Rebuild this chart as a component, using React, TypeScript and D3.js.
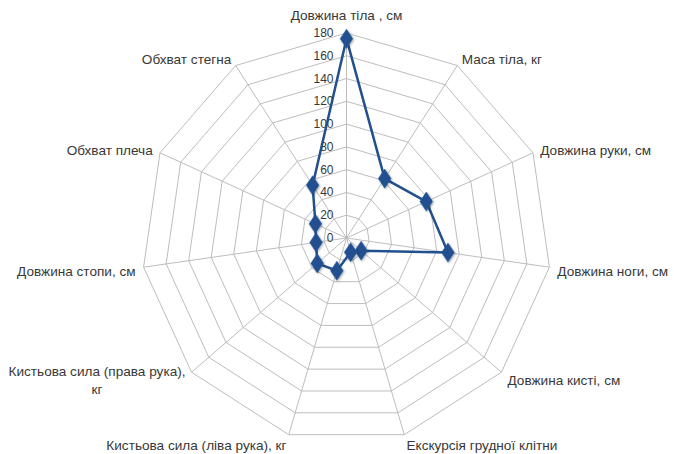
import React, { useEffect, useRef } from "react";
import * as d3 from "d3";

const categories: string[] = [
  "Довжина тіла , см",
  "Маса тіла, кг",
  "Довжина руки, см",
  "Довжина ноги, см",
  "Довжина кисті, см",
  "Екскурсія грудної клітни",
  "Кистьова сила (ліва рука), кг",
  "Кистьова сила (права рука),\nкг",
  "Довжина стопи, см",
  "Обхват плеча",
  "Обхват стегна",
];

const values: number[] = [175, 62, 77, 90, 17, 13, 30, 34, 27, 30, 55];

const tickValues: number[] = [0, 20, 40, 60, 80, 100, 120, 140, 160, 180];

const W = 674;
const H = 454;
const CX = 346.5;
const CY = 238;
const R = 205;
const LINE_COLOR = "#21508f";
const GRID_COLOR = "#bdbdbd";
const TEXT_COLOR = "#383838";
const FONT = "'Liberation Sans', Arial, sans-serif";

export default function App() {
  const ref = useRef<SVGSVGElement | null>(null);

  useEffect(() => {
    const svg = d3.select(ref.current);
    svg.selectAll("*").remove();
    const n = categories.length;
    const r = d3.scaleLinear().domain([0, 180]).range([0, R]);
    const angle = (i: number) => (i * 2 * Math.PI) / n;
    const pt = (i: number, v: number): [number, number] => [
      CX + r(v) * Math.sin(angle(i)),
      CY - r(v) * Math.cos(angle(i)),
    ];

    const defs = svg.append("defs");
    const f = defs
      .append("filter")
      .attr("id", "sh")
      .attr("x", "-50%")
      .attr("y", "-50%")
      .attr("width", "200%")
      .attr("height", "200%");
    f.append("feDropShadow")
      .attr("dx", 0.8)
      .attr("dy", 1)
      .attr("stdDeviation", 1)
      .attr("flood-color", "#000")
      .attr("flood-opacity", 0.35);

    const g = svg.append("g");

    // rings
    const ringVals = tickValues.filter((t) => t > 0);
    g.selectAll("polygon.ring")
      .data(ringVals)
      .enter()
      .append("polygon")
      .attr("class", "ring")
      .attr("points", (t) =>
        d3.range(n).map((i) => pt(i, t).join(",")).join(" ")
      )
      .attr("fill", "none")
      .attr("stroke", GRID_COLOR)
      .attr("stroke-width", 1);

    // spokes
    g.selectAll("line.spoke")
      .data(d3.range(n))
      .enter()
      .append("line")
      .attr("x1", CX)
      .attr("y1", CY)
      .attr("x2", (i) => pt(i, 180)[0])
      .attr("y2", (i) => pt(i, 180)[1])
      .attr("stroke", GRID_COLOR)
      .attr("stroke-width", 1);

    // tick labels
    g.selectAll("text.tick")
      .data(tickValues)
      .enter()
      .append("text")
      .attr("x", CX - 13)
      .attr("y", (t) => CY - r(t))
      .attr("text-anchor", "end")
      .attr("dominant-baseline", "central")
      .attr("font-family", FONT)
      .attr("font-size", 12)
      .attr("fill", TEXT_COLOR)
      .text((t) => String(t));

    // series line
    const line = d3
      .line<number>()
      .x((v, i) => pt(i, v)[0])
      .y((v, i) => pt(i, v)[1])
      .curve(d3.curveLinearClosed);
    g.append("path")
      .attr("d", line(values) as string)
      .attr("fill", "none")
      .attr("stroke", LINE_COLOR)
      .attr("stroke-width", 2.5)
      .attr("stroke-linejoin", "round");

    // markers
    const sym = d3.symbol().type(d3.symbolDiamond).size(105);
    g.selectAll("path.mk")
      .data(values)
      .enter()
      .append("path")
      .attr("class", "mk")
      .attr("d", sym() as string)
      .attr("transform", (v, i) => {
        const [x, y] = pt(i, v);
        return `translate(${x},${y}) scale(1.15,1)`;
      })
      .attr("fill", LINE_COLOR)
      .attr("stroke", "#2a5a9c")
      .attr("stroke-width", 0.5)
      .attr("filter", "url(#sh)");

    // category labels
    categories.forEach((label, i) => {
      const a = angle(i);
      const s = Math.sin(a);
      const c = Math.cos(a);
      const x = CX + (R + 8) * s;
      let y = CY - (R + 8) * c + (c < 0 ? 2.5 : 0);
      let anchor = "middle";
      if (Math.abs(s) < 0.1) {
        y = c > 0 ? CY - R - 18 : CY + R + 18;
      } else if (s > 0) anchor = "start";
      else anchor = "end";
      const lines = label.split("\n");
      const t = g
        .append("text")
        .attr("font-family", FONT)
        .attr("font-size", 13.6)
        .attr("fill", TEXT_COLOR)
        .attr("dominant-baseline", "central");
      const lh = 18;
      const tsp = lines.map((ln, k) =>
        t
          .append("tspan")
          .attr("y", y + (k - (lines.length - 1) / 2) * lh)
          .text(ln)
      );
      if (lines.length === 1) {
        tsp[0].attr("x", x).attr("text-anchor", anchor);
      } else {
        const widths = tsp.map((ts) =>
          (ts.node() as SVGTextContentElement).getComputedTextLength()
        );
        const maxW = Math.max(...widths);
        const center =
          anchor === "end" ? x - maxW / 2 : anchor === "start" ? x + maxW / 2 : x;
        tsp.forEach((ts) => ts.attr("x", center).attr("text-anchor", "middle"));
      }
    });
  }, []);

  return (
    <svg
      ref={ref}
      width={W}
      height={H}
      style={{ position: "absolute", left: 0, top: 0, background: "#fff" }}
    />
  );
}
